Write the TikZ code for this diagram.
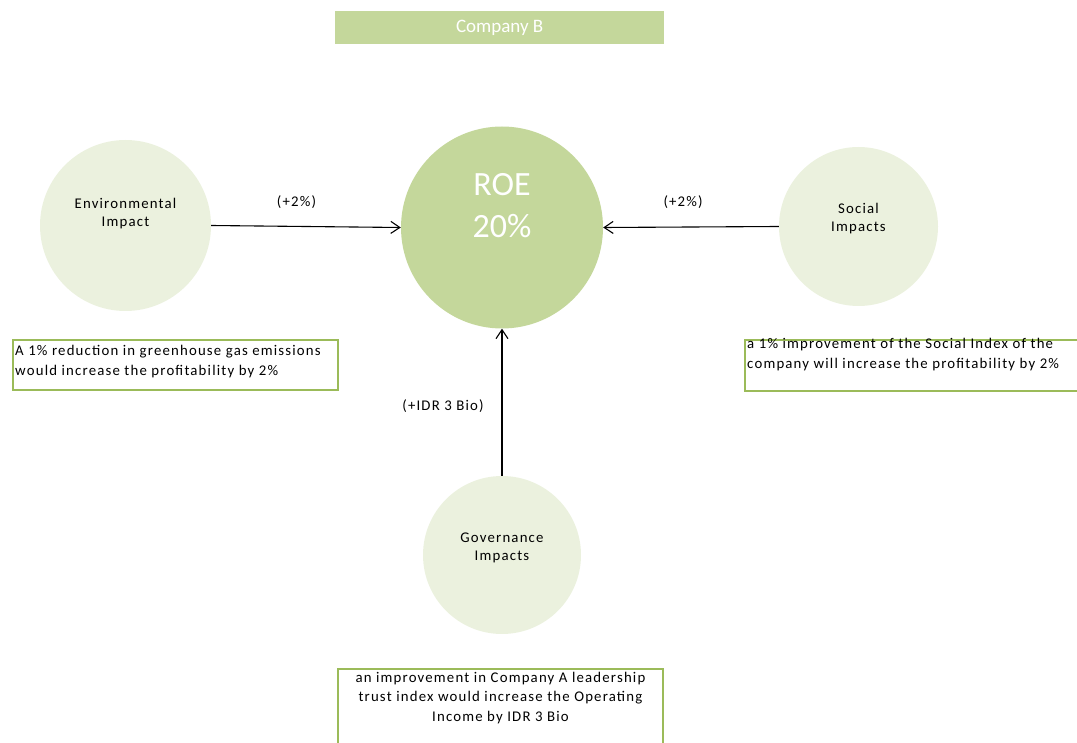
\documentclass[tikz,border=0pt]{standalone}
\usepackage{fontspec}
\setmainfont{Carlito}
\newfontfamily\spaced[LetterSpace=8]{Carlito}
\usetikzlibrary{arrows.meta}
\definecolor{roegreen}{HTML}{C4D79B}
\definecolor{palegreen}{HTML}{EBF1DE}
\definecolor{boxgreen}{HTML}{9BBB59}
\begin{document}
\begin{tikzpicture}[x=1pt,y=-1pt,
				bubble/.style={circle,fill=palegreen,inner sep=0pt},
				bubbletext/.style={align=center,font=\spaced\fontsize{14.8}{18.5}\selectfont,inner sep=0pt},
				notebox/.style={draw=boxgreen,line width=1.9pt,inner sep=0pt,anchor=north west},
				notetext/.style={font=\spaced\fontsize{14.8}{20.5}\selectfont,inner sep=0pt},
				effect/.style={font=\spaced\fontsize{14.8}{18}\selectfont,inner sep=0pt},
				impact/.style={line width=1.1pt,-{Straight Barb[length=9pt,width=12pt]}}]
\useasboundingbox (0,0) rectangle (1077,743);
\node (title) [fill=roegreen,minimum width=329pt,minimum height=33pt,inner sep=0pt,anchor=north west,
	text=white,font=\fontsize{19}{22}\selectfont] at (335,11) {Company B};
\node (roe) [circle,fill=roegreen,inner sep=0pt,minimum size=202pt,
	label={[yshift=22pt,align=center,text=white,font=\fontsize{34}{42}\selectfont]center:ROE\\20\%}] at (502,227.5) {};
\node (env) [bubble,minimum size=171pt,label={[bubbletext,yshift=12pt]center:Environmental\\Impact}] at (125.5,225.5) {};
\node (soc) [bubble,minimum size=159pt,label={[bubbletext,yshift=8pt]center:Social\\Impacts}] at (858.5,226.5) {};
\node (gov) [bubble,minimum size=158pt,label={[bubbletext,yshift=7pt]center:Governance\\Impacts}] at (502,555) {};
\draw[impact] (env.east) -- node[effect,pos=0.45,yshift=24pt] {(+2\%)} (roe.west);
\draw[impact] (soc.west) -- node[effect,pos=0.545,yshift=25pt] {(+2\%)} (roe.east);
\draw[impact] (gov.north) -- node[effect,pos=0.475,xshift=-59pt] {(+IDR 3 Bio)} (roe.south);
\node (envnote) [notebox,minimum width=325pt,minimum height=50pt,
	label={[notetext,anchor=north west,align=left,xshift=3pt,yshift=-6pt]north west:A 1\% reduction in greenhouse gas emissions\\would increase the profitability by 2\%}] at (12,339) {};
\node (socnote) [notebox,minimum width=360pt,minimum height=51pt,
	label={[notetext,anchor=north west,align=left,xshift=3pt,yshift=1pt]north west:a 1\% improvement of the Social Index of the\\company will increase the profitability by 2\%}] at (744,339) {};
\node (govnote) [notebox,minimum width=325pt,minimum height=90pt,
	label={[notetext,anchor=north,align=center,yshift=-4pt,font=\spaced\fontsize{14.8}{19.5}\selectfont]north:an improvement in Company A leadership\\trust index would increase the Operating\\Income by IDR 3 Bio}] at (337,668) {};
\end{tikzpicture}
\end{document}
